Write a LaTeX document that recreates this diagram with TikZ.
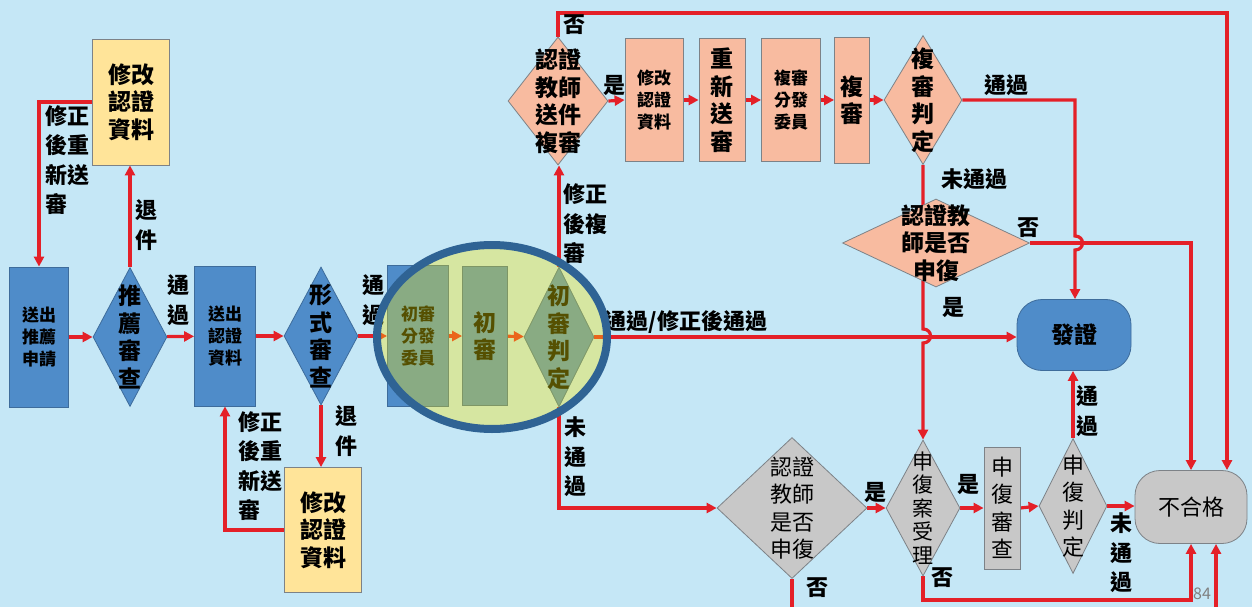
\documentclass[tikz,border=0pt]{standalone}
\usepackage{fontspec}
\setmainfont{Noto Sans CJK TC}
\usetikzlibrary{shapes.geometric,arrows.meta}

\definecolor{skybg}{RGB}{197,231,246}
\definecolor{boxblue}{RGB}{79,140,201}
\definecolor{edgeblue}{RGB}{62,108,155}
\definecolor{boxsalmon}{RGB}{248,187,160}
\definecolor{boxgray}{RGB}{200,200,200}
\definecolor{boxyellow}{RGB}{255,228,153}
\definecolor{edgegray}{RGB}{125,130,135}
\definecolor{flowred}{RGB}{228,32,40}
\definecolor{ringblue}{RGB}{47,99,148}
\definecolor{hilite}{RGB}{246,230,3}

\pgfdeclarelayer{bg}
\pgfdeclarelayer{lines}
\pgfsetlayers{bg,lines,main}

\tikzset{
  base/.style={draw, line width=0.8pt, inner sep=0pt, align=center, text=black},
  bbox/.style={base, rectangle, fill=boxblue, draw=edgeblue},
  ybox/.style={base, rectangle, fill=boxyellow, draw=edgegray},
  sbox/.style={base, rectangle, fill=boxsalmon, draw=edgegray},
  gbox/.style={base, rectangle, fill=boxgray, draw=edgegray},
  bdia/.style={base, diamond, fill=boxblue, draw=edgeblue},
  sdia/.style={base, diamond, fill=boxsalmon, draw=edgegray},
  gdia/.style={base, diamond, fill=boxgray, draw=edgegray},
  flow/.style={draw=flowred, line width=3.2pt, -{Triangle[length=10pt,width=10pt]}},
  big/.style={font=\fontsize{23}{27.5}\selectfont\bfseries, align=center},
  small/.style={font=\fontsize{17}{22}\selectfont\bfseries},
  plain/.style={font=\fontsize{22}{27.5}\selectfont, align=center},
  tag/.style={font=\fontsize{22}{29.5}\selectfont\bfseries, inner sep=0pt, align=center},
}

\begin{document}
\begin{tikzpicture}[x=1pt,y=-1pt]

	\useasboundingbox (0,0) rectangle (1252,607);
	\begin{pgfonlayer}{bg}
		\fill[skybg] (0,0) rectangle (1252,607);
	\end{pgfonlayer}

	% first row: application and form check
	\node[bbox, small, minimum width=59, minimum height=140] (req) at (39,337) {送出\\推薦\\申請};
	\node[bdia, minimum width=74, minimum height=139, label={[big]center:推\\薦\\審\\查}] (rv) at (130,337) {};
	\node[ybox, big, minimum width=77, minimum height=126] (fixA) at (131,102) {修改\\認證\\資料};
	\node[bbox, small, minimum width=61, minimum height=140] (sub) at (225,336) {送出\\認證\\資料};
	\node[bdia, minimum width=74, minimum height=138, label={[big]center:形\\式\\審\\查}] (fm) at (321,336) {};
	\node[ybox, big, minimum width=77, minimum height=125] (fixB) at (323,530) {修改\\認證\\資料};

	% first review (highlighted)
	\node[bbox, small, minimum width=61, minimum height=141] (d1) at (418,336) {初審\\分發\\委員};
	\node[bbox, big, minimum width=45, minimum height=139] (r1) at (485,336) {初\\審};
	\node[bdia, minimum width=70, minimum height=140, label={[big]center:初\\審\\判\\定}] (j1) at (559,337) {};

	% second review
	\node[sdia, minimum width=100, minimum height=128, label={[big]center:認證\\教師\\送件\\複審}] (ask) at (558,101) {};
	\node[sbox, small, minimum width=58, minimum height=123] (fixC) at (654,100) {修改\\認證\\資料};
	\node[sbox, big, minimum width=46, minimum height=123] (resend) at (722,100) {重\\新\\送\\審};
	\node[sbox, small, minimum width=59, minimum height=123] (d2) at (791,100) {複審\\分發\\委員};
	\node[sbox, big, minimum width=35, minimum height=126] (r2) at (852,100) {複\\審};
	\node[sdia, minimum width=78, minimum height=129, label={[big]center:複\\審\\判\\定}] (j2) at (923,100) {};
	\node[sdia, minimum width=187, minimum height=88, label={[big]center:認證教\\師是否\\申復}] (apl) at (936,243) {};

	% results
	\node[bbox, big, rounded corners=25pt, minimum width=114, minimum height=71] (cert) at (1074,335) {發證};
	\node[gbox, plain, rounded corners=25pt, minimum width=112, minimum height=73] (fail) at (1191,507) {不合格};

	% appeal
	\node[gdia, minimum width=150, minimum height=141, label={[plain]center:認證\\教師\\是否\\申復}] (apl2) at (792,508) {};
	\node[gdia, minimum width=74, minimum height=136, label={[plain, font=\fontsize{21}{23.5}\selectfont]center:申\\復\\案\\受\\理}] (acc) at (923,508) {};
	\node[gbox, plain, minimum width=36, minimum height=122] (rvw) at (1002,508) {申\\復\\審\\查};
	\node[gdia, minimum width=68, minimum height=135, label={[plain]center:申\\復\\判\\定}] (j3) at (1073,506) {};

	% loose ends and hops
	\coordinate (topR) at (1227,13);
	\coordinate (hopA) at (923,336);
	\coordinate (hopB) at (1075,243);
	\coordinate (botM) at (1191,600);
	\coordinate (botL) at (792,625);
	\coordinate (botR) at (1216,625);

	\begin{pgfonlayer}{lines}
		\draw[flow] (req) -- (rv);
		\draw[flow] (rv) -- (sub);
		\draw[flow] (sub) -- (fm);
		\draw[flow] (fm) -- (d1);
		\draw[flow] (d1) -- (r1);
		\draw[flow] (r1) -- (j1);
		\draw[flow] (rv.north) -- (rv.north |- fixA.south);
		\draw[flow] (fixA.west) -| (req.north);
		\draw[flow] (fm.south) -- (fm.south |- fixB.north);
		\draw[flow] (fixB.west) -| (sub.south);

		\draw[flow] (j1.north) -- (j1.north |- ask.south);
		\draw[flow] (j1.south) |- (apl2.west);
		\draw[flow] (j1.east) -- (j1.east -| cert.west);

		\draw[flow] (ask.east) -- (fixC.west);
		\draw[flow] (fixC) -- (resend);
		\draw[flow] (resend) -- (d2);
		\draw[flow] (d2) -- (r2);
		\draw[flow] (r2) -- (j2);
		\draw[flow] (ask.north) |- (topR) -- (topR |- fail.north);
		\draw[flow] (j2.east) -| ([yshift=7pt]hopB) .. controls +(10,0) and +(10,0) .. ([yshift=-7pt]hopB) -- (hopB |- cert.north);
		\draw[flow] (j2.south) -- ([yshift=7pt]hopA) .. controls +(10,0) and +(10,0) .. ([yshift=-7pt]hopA) -- (acc.north);
		\draw[flow] (apl.east) -| (fail.north);

		\draw[flow] (apl2.east) -- (acc.west);
		\draw[flow] (apl2.south) -- (botL) -- (botR) -- (botR |- fail.south);
		\draw[flow] (acc.south) |- (botM) -- (fail.south);
		\draw[flow] (acc.east) -- (rvw.west);
		\draw[flow] (rvw.east) -- (j3.west);
		\draw[flow] (j3.north) -- (j3.north |- cert.south);
		\draw[flow] (j3.east) -- (j3.east -| fail.west);
	\end{pgfonlayer}

	% labels
	\node[tag, align=left] (tA) at (67,160) {修正\\後重\\新送\\審};
	\node[tag] (tB) at (146,225) {退\\件};
	\node[tag] (tC) at (178,300) {通\\過};
	\node[tag] (tD) at (373,300) {通\\過};
	\node[tag] (tE) at (346,431) {退\\件};
	\node[tag, align=left] (tF) at (260,466) {修正\\後重\\新送\\審};
	\node[tag] (tG) at (574,25) {否};
	\node[tag, align=left] (tH) at (585,224) {修正\\後複\\審};
	\node[tag] (tI) at (614,85) {是};
	\node[tag] (tJ) at (1006,85) {通過};
	\node[tag] (tK) at (974,179) {未通過};
	\node[tag] (tL) at (1028,228) {否};
	\node[tag] (tM) at (953,307) {是};
	\node[tag] (tN) at (686,322) {通過/修正後通過};
	\node[tag] (tO) at (575,457) {未\\通\\過};
	\node[tag] (tP) at (817,588) {否};
	\node[tag] (tQ) at (875,492) {是};
	\node[tag] (tR) at (942,578) {否};
	\node[tag] (tS) at (968,484) {是};
	\node[tag] (tT) at (1087,411) {通\\過};
	\node[tag] (tU) at (1121,553) {未\\通\\過};
	\node[font=\fontsize{16}{18}\selectfont, text=gray, inner sep=0pt] (page) at (1202,594) {84};

	% highlight round the first review
	\fill[hilite, opacity=0.35] (492,337) ellipse [x radius=115pt, y radius=92pt];
	\draw[ringblue, line width=8pt] (492,337) ellipse [x radius=115pt, y radius=92pt];

\end{tikzpicture}
\end{document}
